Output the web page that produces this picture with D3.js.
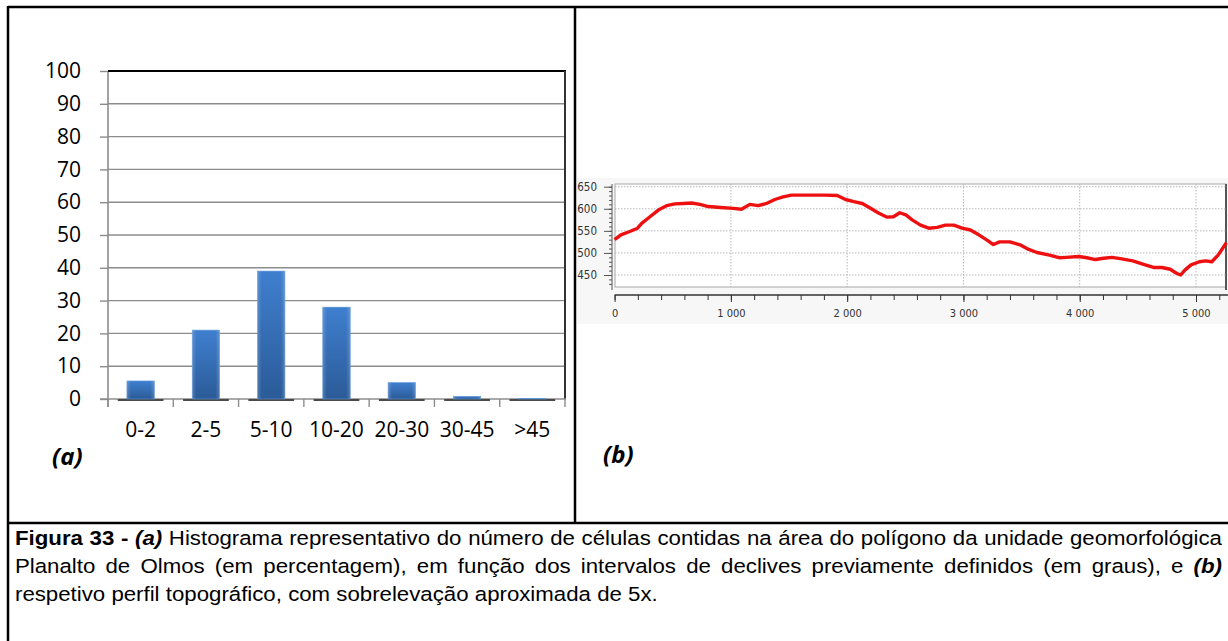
<!DOCTYPE html>
<html><head><meta charset="utf-8">
<script src="https://cdn.jsdelivr.net/npm/d3@7"></script>
<style>body{margin:0;background:#fff}svg{display:block}</style>
</head><body>
<svg id="c" width="1228" height="641"></svg>
<script>
// ---------- DATA ----------
const categories = ["0-2", "2-5", "5-10", "10-20", "20-30", "30-45", ">45"];
const percentages = [5.5, 21, 39, 28, 5, 0.8, 0.15];
const yTicksA = [0, 10, 20, 30, 40, 50, 60, 70, 80, 90, 100];

const profileDistance = [0, 54, 125, 197, 233, 304, 376, 447, 519, 590, 662, 734, 805, 913, 1020, 1091, 1163, 1234, 1306, 1378, 1449, 1521, 1664, 1807, 1915, 1986, 2058, 2130, 2201, 2273, 2344, 2398, 2452, 2505, 2559, 2631, 2702, 2774, 2845, 2917, 2988, 3060, 3132, 3203, 3257, 3311, 3400, 3490, 3561, 3633, 3740, 3830, 3883, 3991, 4062, 4134, 4205, 4277, 4349, 4456, 4563, 4635, 4707, 4778, 4832, 4868, 4904, 4957, 5029, 5082, 5136, 5190, 5261];
const profileElevation = [530, 541, 548, 556, 567, 582, 597, 607, 611, 612, 613, 610, 605, 603, 601, 599, 610, 607, 612, 621, 627, 631, 631, 631, 630, 621, 616, 612, 601, 590, 581, 582, 591, 586, 575, 563, 556, 558, 563, 563, 556, 552, 541, 529, 519, 525, 525, 518, 508, 501, 495, 489, 490, 492, 489, 485, 488, 490, 487, 482, 473, 467, 467, 463, 454, 450, 461, 473, 480, 482, 480, 495, 523];
const xTicksB = [0, 1000, 2000, 3000, 4000, 5000];
const yTicksB = [450, 500, 550, 600, 650];

const panelLabels = ["(a)", "(b)"];
const captionLines = [
  [{t: "Figura 33 -", b: 1}, {t: "(a)", b: 1, i: 1}, {t: "Histograma representativo do número de células contidas na área do polígono da unidade geomorfológica"}],
  [{t: "Planalto de Olmos (em percentagem), em função dos intervalos de declives previamente definidos (em graus), e"}, {t: "(b)", b: 1, i: 1}],
  [{t: "respetivo perfil topográfico, com sobrelevação aproximada de 5x."}]
];

// ---------- SETUP ----------
const svg = d3.select("#c");
const defs = svg.append("defs");
const FONT = "'Open Sans', 'Noto Sans', sans-serif";

// ---------- LEFT CHART (a) ----------
const xA = d3.scaleBand().domain(categories).range([108, 565]);
const yA = d3.scaleLinear().domain([0, 100]).range([399, 71]);

const grad = defs.append("linearGradient").attr("id", "barg").attr("x1", 0).attr("y1", 0).attr("x2", 0).attr("y2", 1);
grad.append("stop").attr("offset", "0%").attr("stop-color", "#3f7fcf");
grad.append("stop").attr("offset", "100%").attr("stop-color", "#2b5b98");
const gradH = defs.append("linearGradient").attr("id", "barh").attr("x1", 0).attr("y1", 0).attr("x2", 1).attr("y2", 0);
gradH.append("stop").attr("offset", "0%").attr("stop-color", "#fff").attr("stop-opacity", 0.18);
gradH.append("stop").attr("offset", "15%").attr("stop-color", "#fff").attr("stop-opacity", 0);
gradH.append("stop").attr("offset", "85%").attr("stop-color", "#fff").attr("stop-opacity", 0);
gradH.append("stop").attr("offset", "100%").attr("stop-color", "#fff").attr("stop-opacity", 0.18);

const gA = svg.append("g");
gA.selectAll(".grid").data(yTicksA.filter(d => d > 0 && d < 100)).join("line")
  .attr("x1", 108).attr("x2", 565).attr("y1", d => yA(d)).attr("y2", d => yA(d))
  .attr("stroke", "#8c8c8c").attr("stroke-width", 1.4);

const axA = d3.axisLeft(yA).tickValues(yTicksA).tickSize(8).tickPadding(18);
const gyA = gA.append("g").attr("transform", "translate(108,0)").call(axA);
gyA.select(".domain").attr("stroke", "#8c8c8c").attr("stroke-width", 1.6).attr("d", "M0,71V407");
gyA.selectAll(".tick line").attr("stroke", "#8c8c8c").attr("stroke-width", 1.4);
gyA.selectAll(".tick text").attr("font-family", FONT).attr("font-size", 21).attr("fill", "#000").attr("dx", -1);

gA.append("line").attr("x1", 108).attr("x2", 566).attr("y1", yA(100)).attr("y2", yA(100)).attr("stroke", "#000").attr("stroke-width", 2);
gA.append("line").attr("x1", 565).attr("x2", 565).attr("y1", yA(100)).attr("y2", yA(0)).attr("stroke", "#333").attr("stroke-width", 2);

const boundaries = categories.map(c => xA(c)).concat([xA.range()[1]]);
gA.append("line").attr("x1", 100).attr("x2", 566).attr("y1", yA(0)).attr("y2", yA(0)).attr("stroke", "#8c8c8c").attr("stroke-width", 1.6);
gA.selectAll(".xt").data(boundaries).join("line")
  .attr("x1", d => d).attr("x2", d => d).attr("y1", yA(0)).attr("y2", yA(0) + 8)
  .attr("stroke", "#8c8c8c").attr("stroke-width", 1.4);

const bw = xA.bandwidth();
gA.selectAll(".base").data(categories).join("line")
  .attr("x1", d => xA(d) + bw * 0.15).attr("x2", d => xA(d) + bw * 0.85)
  .attr("y1", yA(0) + 1).attr("y2", yA(0) + 1).attr("stroke", "#4a4a4a").attr("stroke-width", 2);

const barW = bw * 0.42;
const bars = gA.selectAll(".bar").data(categories.map((c, i) => ({c, v: percentages[i]}))).join("g");
bars.append("rect")
  .attr("x", d => xA(d.c) + (bw - barW) / 2).attr("width", barW)
  .attr("y", d => yA(d.v)).attr("height", d => yA(0) - yA(d.v))
  .attr("fill", "url(#barg)").attr("stroke", "#5d95d8").attr("stroke-width", 0.6);
bars.append("rect")
  .attr("x", d => xA(d.c) + (bw - barW) / 2).attr("width", barW)
  .attr("y", d => yA(d.v)).attr("height", d => yA(0) - yA(d.v))
  .attr("fill", "url(#barh)");

gA.selectAll(".xl").data(categories).join("text")
  .attr("x", d => xA(d) + bw / 2).attr("y", 437)
  .attr("text-anchor", "middle").attr("font-family", FONT).attr("font-size", 21).attr("fill", "#000")
  .text(d => d);

svg.append("text").attr("x", 52).attr("y", 465).attr("font-family", FONT).attr("font-size", 24)
  .attr("font-weight", "bold").attr("font-style", "italic").text(panelLabels[0]);

// ---------- RIGHT CHART (b) ----------
const xB = d3.scaleLinear().domain([0, 5000]).range([614.6, 1196]);
const yB = d3.scaleLinear().domain([450, 650]).range([275, 186.7]);
const FB = "'DejaVu Sans Condensed', 'DejaVu Sans', sans-serif";

defs.append("clipPath").attr("id", "clipB").append("rect").attr("x", 577).attr("y", 170).attr("width", 651).attr("height", 160);
const gB = svg.append("g").attr("clip-path", "url(#clipB)");
gB.append("rect").attr("x", 577).attr("y", 178).attr("width", 651).attr("height", 146).attr("fill", "#f7f7f7");
gB.append("rect").attr("x", 615).attr("y", 184).attr("width", 611).attr("height", 103).attr("fill", "#fff")
  .attr("stroke", "#a8a8a8").attr("stroke-width", 1);
gB.append("line").attr("x1", 1226).attr("x2", 1226).attr("y1", 184).attr("y2", 290).attr("stroke", "#555").attr("stroke-width", 2);

gB.selectAll(".gh").data(yTicksB).join("line")
  .attr("x1", 615).attr("x2", 1226).attr("y1", d => yB(d)).attr("y2", d => yB(d))
  .attr("stroke", "#b8b8b8").attr("stroke-width", 1).attr("stroke-dasharray", "1.5,1.5");
gB.selectAll(".gv").data(xTicksB.filter(d => d > 0)).join("line")
  .attr("x1", d => xB(d)).attr("x2", d => xB(d)).attr("y1", 184).attr("y2", 287)
  .attr("stroke", "#b8b8b8").attr("stroke-width", 1).attr("stroke-dasharray", "1.5,1.5");

const gyB = gB.append("g").attr("transform", "translate(612,0)");
gyB.call(d3.axisLeft(yB).tickValues(d3.range(430, 660, 10)).tickSize(3).tickFormat(""))
  .select(".domain").attr("d", "M0,184V290").attr("stroke", "#555");
gyB.selectAll(".tick line").attr("stroke", "#555");
const gyB2 = gB.append("g").attr("transform", "translate(612,0)");
gyB2.call(d3.axisLeft(yB).tickValues(yTicksB).tickSize(8).tickPadding(3));
gyB2.select(".domain").remove();
gyB2.selectAll(".tick line").attr("stroke", "#555");
gyB2.selectAll(".tick text").attr("font-family", FB).attr("font-size", 11.5).attr("fill", "#333").attr("dx", -4);

const gxB = gB.append("g").attr("transform", "translate(0,295)");
gxB.call(d3.axisBottom(xB).tickValues(d3.range(0, 5400, 200)).tickSize(5).tickFormat(""))
  .select(".domain").attr("d", "M614.6,0H1228").attr("stroke", "#333").attr("stroke-width", 1.3);
gxB.selectAll(".tick line").attr("stroke", "#333");
const gxB2 = gB.append("g").attr("transform", "translate(0,295)");
gxB2.call(d3.axisBottom(xB).tickValues(xTicksB).tickSize(7).tickPadding(7)
  .tickFormat(d => d3.format(",")(d).replace(",", " ")));
gxB2.select(".domain").remove();
gxB2.selectAll(".tick line").attr("stroke", "#333");
gxB2.selectAll(".tick text").attr("font-family", FB).attr("font-size", 11).attr("fill", "#333");

const line = d3.line().x((d, i) => xB(profileDistance[i])).y(d => yB(d));
gB.append("path").datum(profileElevation).attr("d", line)
  .attr("fill", "none").attr("stroke", "#ee1010").attr("stroke-width", 3.4).attr("stroke-linejoin", "round");

svg.append("text").attr("x", 603).attr("y", 463).attr("font-family", FONT).attr("font-size", 24)
  .attr("font-weight", "bold").attr("font-style", "italic").text(panelLabels[1]);

// ---------- FRAME ----------
const frame = svg.append("g").attr("stroke", "#000").attr("stroke-width", 2.5);
frame.append("line").attr("x1", 8).attr("x2", 1228).attr("y1", 7).attr("y2", 7);
frame.append("line").attr("x1", 8).attr("x2", 8).attr("y1", 6).attr("y2", 641);
frame.append("line").attr("x1", 575).attr("x2", 575).attr("y1", 7).attr("y2", 523);
frame.append("line").attr("x1", 8).attr("x2", 1228).attr("y1", 523).attr("y2", 523);

// ---------- CAPTION ----------
const CF = "'Liberation Sans', Arial, sans-serif";
const CSIZE = 20.5;
const meas = svg.append("text").attr("font-family", CF).attr("font-size", CSIZE).attr("visibility", "hidden");
function wordWidth(w, seg) {
  meas.attr("font-weight", seg.b ? "bold" : "normal").attr("font-style", seg.i ? "italic" : "normal").text(w);
  return meas.node().getComputedTextLength();
}
function wordsOf(lineSegs) {
  const out = [];
  lineSegs.forEach(seg => seg.t.split(" ").forEach(w => out.push({w, seg})));
  return out;
}
const spaceW = wordWidth("a a", {}) - wordWidth("aa", {});
const firstWords = wordsOf(captionLines[0]);
const firstW = firstWords.reduce((s, o) => s + wordWidth(o.w, o.seg), 0) + spaceW * (firstWords.length - 1);
const left = 15, right = 1222;
const sx = (right - left - 8) / firstW; // condense so the first justified line is nearly natural
const capBase = [545, 573, 601];
captionLines.forEach((segs, li) => {
  const words = wordsOf(segs);
  const widths = words.map(o => wordWidth(o.w, o.seg));
  const total = widths.reduce((a, b) => a + b, 0);
  const span = (right - left) / sx;
  const gap = li < 2 ? (span - total) / (words.length - 1) : spaceW;
  const g = svg.append("g").attr("transform", `translate(${left},${capBase[li]}) scale(${sx},1)`);
  let x = 0;
  words.forEach((o, k) => {
    g.append("text").attr("x", x).attr("y", 0).attr("font-family", CF).attr("font-size", CSIZE)
      .attr("font-weight", o.seg.b ? "bold" : "normal").attr("font-style", o.seg.i ? "italic" : "normal")
      .attr("fill", "#000").text(o.w);
    x += widths[k] + gap;
  });
});
meas.remove();
</script>
</body></html>
